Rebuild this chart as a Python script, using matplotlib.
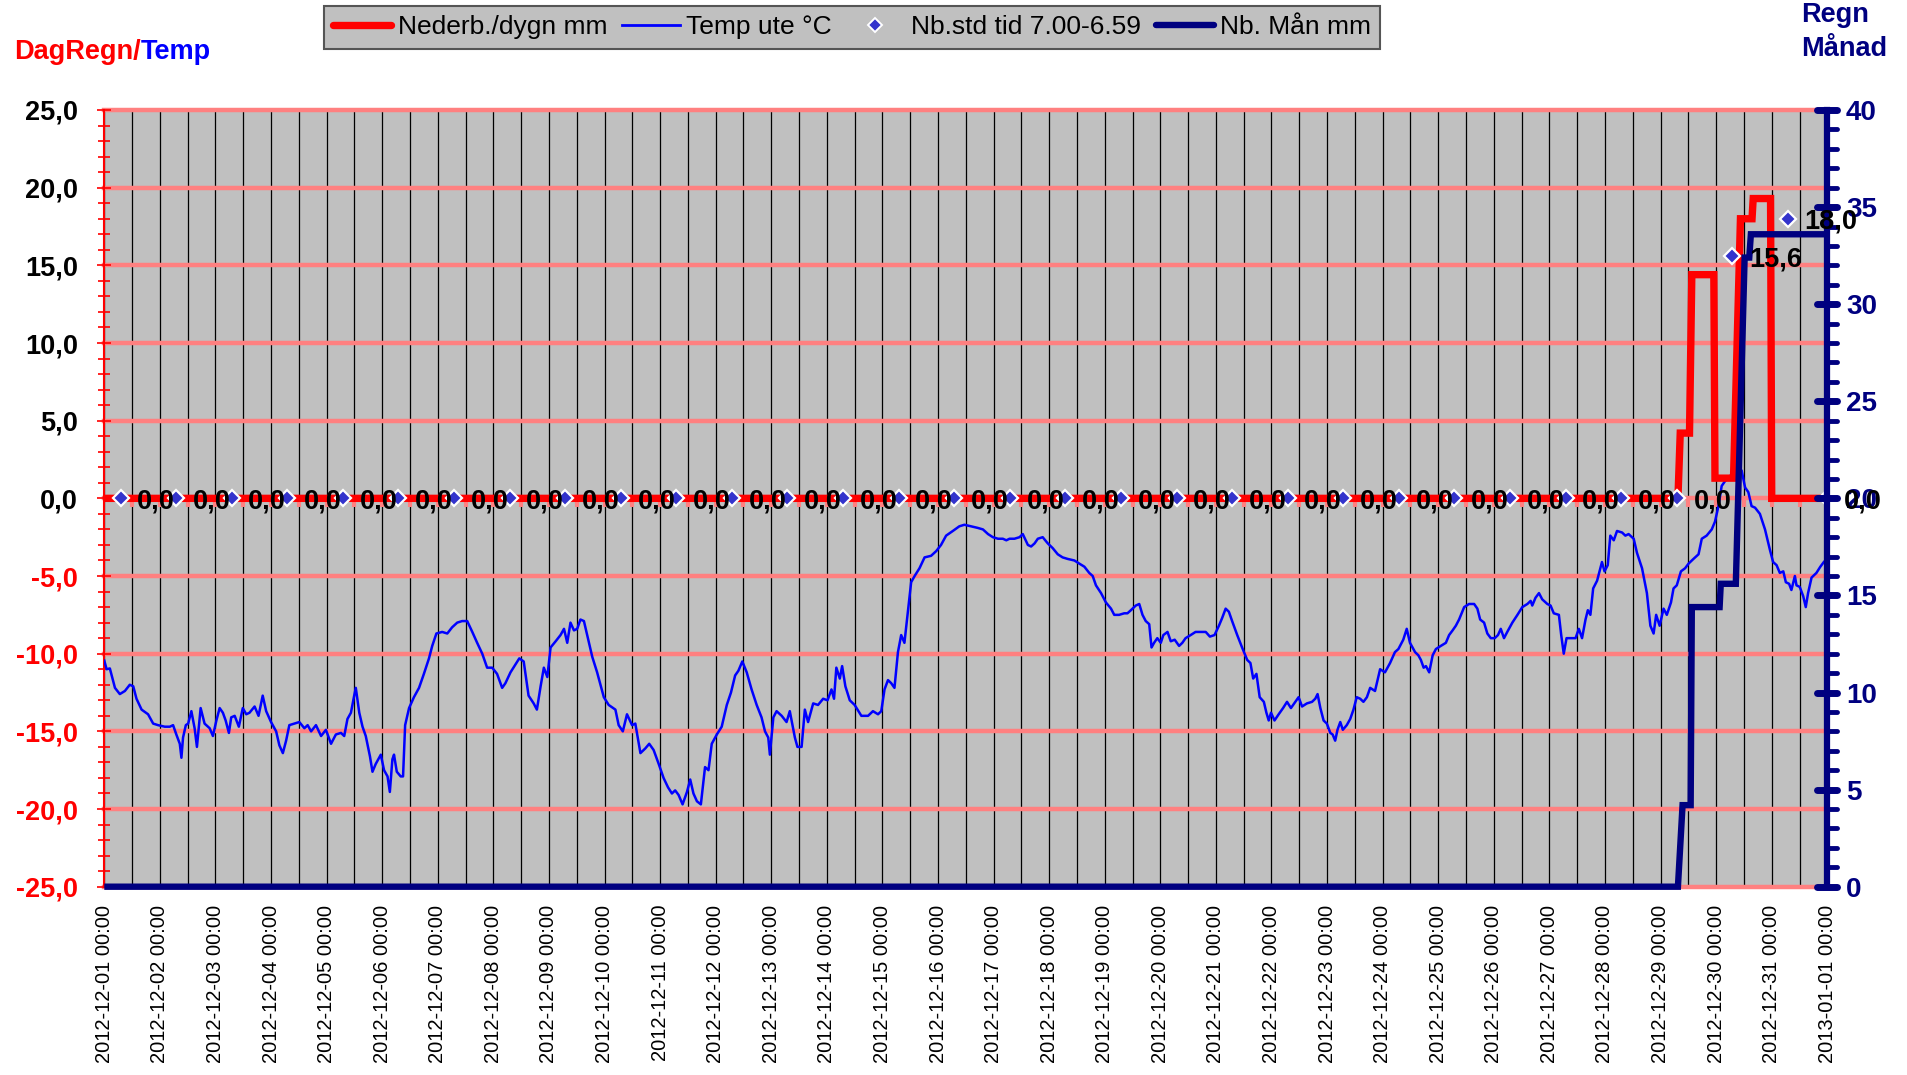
import matplotlib
matplotlib.use("Agg")
import matplotlib.pyplot as plt
from matplotlib.lines import Line2D
from matplotlib.markers import MarkerStyle
from matplotlib.ticker import MultipleLocator
import matplotlib.lines as mlines
import pandas as pd

plt.rcParams['font.family'] = ['Liberation Sans', 'DejaVu Sans']

# ---------------- data (x in hours after 2012-12-01 00:00) ----------------
day_labels = [d.strftime('%Y-%m-%d %H:%M')
              for d in pd.date_range('2012-12-01', '2013-01-01', freq='D')]

temp_hours = [
    0, 1.0, 2.4, 4.6, 6.7, 8.9, 11.0, 12.5, 13.9, 16.1,
    18.9, 21.1, 23.2, 26.1, 28.3, 29.7, 31.1, 32.6, 33.3, 34.0,
    35.2, 36.2, 37.6, 39.0, 40.0, 41.6, 43.3, 45.5, 46.9, 48.4,
    49.8, 51.2, 52.4, 53.8, 54.8, 56.3, 58.1, 59.8, 61.3, 62.7,
    64.9, 66.6, 68.4, 69.9, 72.0, 74.2, 75.6, 77.1, 78.5, 79.9,
    82.1, 84.2, 86.4, 87.8, 89.3, 91.4, 93.6, 95.7, 97.9, 100.0,
    102.2, 103.6, 105.0, 106.5, 107.9, 108.6, 110.1, 111.5, 112.9, 114.7,
    115.8, 117.2, 119.4, 120.8, 122.3, 123.3, 124.4, 125.1, 126.3, 128.0,
    129.0, 129.9, 131.6, 133.7, 135.9, 138.0, 140.2, 141.6, 143.4, 145.9,
    148.1, 150.2, 152.4, 154.5, 156.7, 158.9, 161.0, 163.2, 165.3, 167.5,
    169.6, 171.8, 173.2, 175.4, 177.5, 179.2, 181.1, 183.2, 185.4, 186.8,
    188.4, 189.8, 191.3, 192.7, 194.9, 197.0, 198.5, 199.9, 201.3, 202.8,
    204.2, 205.6, 207.1, 208.5, 210.7, 212.8, 215.7, 217.8, 220.7, 222.1,
    223.9, 225.7, 227.9, 229.3, 231.5, 233.6, 235.3, 237.2, 239.4, 241.5,
    243.4, 245.1, 246.5, 248.0, 249.7, 251.6, 253.0, 254.4, 255.9, 257.6,
    259.4, 260.9, 262.3, 264.5, 266.6, 268.8, 270.6, 272.4, 273.8, 275.5,
    277.4, 279.5, 281.7, 283.8, 285.3, 286.7, 287.4, 288.9, 290.3, 292.5,
    294.6, 296.0, 298.2, 299.3, 301.1, 302.5, 303.9, 306.1, 308.2, 310.4,
    312.3, 314.0, 315.1, 316.1, 317.6, 318.6, 320.0, 321.9, 324.0, 326.9,
    329.8, 331.9, 334.1, 335.5, 336.9, 338.4, 339.8, 341.2, 342.7, 344.1,
    345.5, 347.0, 348.4, 349.9, 352.0, 354.2, 357.0, 359.2, 361.3, 363.5,
    366.4, 369.2, 371.4, 374.2, 377.1,
    379.4, 381.6, 383.7, 385.9, 388.0, 389.5, 390.9, 393.0, 395.2, 396.6,
    398.8, 400.2, 401.7, 403.1, 405.2, 407.4, 409.5, 411.7, 413.8, 416.0,
    418.9, 421.0, 423.2, 425.3, 426.8, 428.2, 430.4, 432.5, 434.7, 436.1,
    438.2, 440.4, 441.8, 443.3, 445.4, 446.9, 448.3, 449.7, 451.2, 452.2,
    453.3, 454.7, 456.2, 457.3, 459.1, 460.5, 462.2, 464.1, 465.5, 466.9,
    469.1, 471.2, 473.4, 475.6, 477.4, 479.4, 481.3, 482.7, 484.2, 485.6,
    487.0, 489.2, 491.3, 493.5, 494.9, 496.1, 497.5, 498.9, 500.7, 501.8,
    502.8, 503.8, 505.3, 507.1, 509.0, 510.7, 512.4, 514.3, 515.7, 517.2,
    519.3, 521.5, 522.9, 523.9, 525.1, 526.5, 527.9, 529.4, 530.4, 531.5,
    532.5, 533.7, 534.8, 536.5, 538.0, 539.4, 540.8, 542.3, 543.7, 545.2,
    546.6, 548.7, 550.9, 553.0, 555.2, 557.3, 558.8, 560.9, 562.4, 563.8,
    566.0, 567.4,
    568.5, 569.7, 570.7, 572.1, 573.6, 575.0, 577.1, 579.3, 580.7, 582.2,
    583.6, 585.0, 587.2, 589.3, 591.5, 592.9, 594.1, 595.8, 597.2, 598.7,
    600.4, 601.8, 603.0, 604.4, 605.8, 608.0, 610.2, 612.3, 614.5, 615.9,
    616.6, 618.0, 619.5, 620.9, 623.1, 624.5, 625.9, 628.1, 629.1, 630.2,
    631.4, 633.1, 635.3, 636.7, 638.1, 639.6, 640.6, 641.7, 642.9, 644.6,
    646.0, 646.7, 647.8, 649.2, 650.3, 651.8, 653.2, 655.4, 656.8, 658.2,
    660.4, 661.8, 664.0, 666.1, 667.6, 669.0, 670.1, 671.6, 673.3, 674.7,
    676.5, 677.6, 679.0, 680.8, 682.6, 684.1, 686.2, 688.4, 689.8, 691.9,
    694.1, 695.5, 697.0, 698.4, 699.8, 702.0, 703.1, 704.9, 707.0, 708.5,
    709.9, 711.3, 712.8, 714.9, 717.1, 719.2, 720.6, 722.1, 723.5, 725.0,
    726.1, 727.5, 728.5, 730.0, 730.7, 732.1, 733.6, 734.7, 735.7, 737.2,
    739.3, 741.0, 742.5,
]
temp_c = [
    -10.45, -11.0, -10.95, -12.2, -12.6, -12.4, -12.0, -12.1, -12.9, -13.6,
    -13.9, -14.5, -14.6, -14.7, -14.7, -14.6, -15.2, -15.8, -16.7, -15.4,
    -14.6, -14.5, -13.7, -14.8, -16.0, -13.5, -14.5, -14.8, -15.3, -14.3,
    -13.5, -13.8, -14.3, -15.1, -14.1, -14.0, -14.7, -13.5, -13.9, -13.8,
    -13.4, -14.0, -12.7, -13.7, -14.4, -15.0, -15.9, -16.4, -15.6, -14.6,
    -14.5, -14.4, -14.8, -14.6, -15.0, -14.6, -15.3, -14.9, -15.8, -15.2,
    -15.1, -15.3, -14.2, -13.8, -12.7, -12.2, -13.8, -14.7, -15.3, -16.6,
    -17.6, -17.1, -16.5, -17.5, -17.9, -18.9, -16.8, -16.5, -17.6, -17.9,
    -17.9, -14.6, -13.5, -12.8, -12.2, -11.3, -10.3, -9.5, -8.7, -8.6,
    -8.7, -8.3, -8.0, -7.9, -7.9, -8.6, -9.3, -10.0, -10.9, -10.9,
    -11.3, -12.2, -11.9, -11.2, -10.7, -10.3, -10.5, -12.7, -13.2, -13.6,
    -12.1, -10.9, -11.5, -9.6, -9.2, -8.8, -8.4, -9.3, -8.0, -8.5,
    -8.4, -7.8, -7.9, -8.8, -10.2, -11.2, -12.8, -13.3, -13.6, -14.6,
    -15.0, -13.9, -14.6, -14.5, -16.4, -16.1, -15.8, -16.2, -17.1, -18.0,
    -18.6, -19.0, -18.8, -19.1, -19.7, -18.9, -18.1, -19.0, -19.5, -19.7,
    -17.3, -17.5, -15.8, -15.2, -14.7, -13.3, -12.5, -11.4, -11.1, -10.5,
    -11.2, -12.3, -13.3, -14.1, -15.0, -15.4, -16.5, -14.1, -13.7, -14.0,
    -14.4, -13.7, -15.4, -16.0, -16.0, -13.6, -14.4, -13.2, -13.3, -12.9,
    -13.0, -12.3, -12.9, -10.9, -11.6, -10.8, -12.1, -13.0, -13.3, -14.0,
    -14.0, -13.7, -13.9, -13.7, -12.3, -11.7, -11.9, -12.2, -9.9, -8.8,
    -9.3, -7.3, -5.4, -5.0, -4.5, -3.8, -3.7, -3.4, -3.0, -2.4,
    -2.1, -1.8, -1.7, -1.8, -1.9,
    -2.0, -2.3, -2.5, -2.6, -2.6, -2.7, -2.6, -2.6, -2.5, -2.3,
    -3.0, -3.1, -2.9, -2.6, -2.5, -2.9, -3.2, -3.6, -3.8, -3.9,
    -4.0, -4.2, -4.4, -4.8, -5.0, -5.6, -6.1, -6.7, -7.1, -7.5,
    -7.5, -7.4, -7.4, -7.2, -6.9, -6.8, -7.5, -7.9, -8.1, -9.6,
    -9.3, -9.0, -9.3, -8.8, -8.6, -9.2, -9.1, -9.5, -9.3, -9.0,
    -8.8, -8.6, -8.6, -8.6, -8.9, -8.8, -8.2, -7.7, -7.1, -7.3,
    -7.9, -8.8, -9.6, -10.4, -10.6, -11.6, -11.3, -12.8, -13.1, -13.8,
    -14.3, -13.8, -14.3, -13.9, -13.5, -13.1, -13.5, -13.1, -12.8, -13.4,
    -13.2, -13.1, -12.9, -12.6, -13.5, -14.3, -14.5, -15.1, -15.2, -15.6,
    -14.9, -14.4, -14.9, -14.6, -14.2, -13.6, -12.8, -12.9, -13.1, -12.8,
    -12.2, -12.4, -11.0, -11.2, -10.6, -9.9, -9.7, -9.1, -8.4, -9.3,
    -9.9, -10.1,
    -10.4, -10.9, -10.8, -11.2, -10.1, -9.7, -9.5, -9.3, -8.8, -8.5,
    -8.2, -7.8, -7.0, -6.8, -6.8, -7.1, -7.8, -8.0, -8.7, -9.0,
    -9.0, -8.8, -8.4, -9.0, -8.6, -8.0, -7.5, -7.0, -6.8, -6.6,
    -6.9, -6.4, -6.1, -6.5, -6.8, -6.9, -7.4, -7.5, -8.8, -10.0,
    -9.0, -9.0, -9.0, -8.4, -9.0, -7.8, -7.2, -7.5, -5.8, -5.3,
    -4.5, -4.1, -4.7, -4.3, -2.4, -2.7, -2.1, -2.2, -2.4, -2.3,
    -2.6, -3.5, -4.5, -6.1, -8.2, -8.7, -7.5, -8.2, -7.1, -7.5,
    -6.7, -5.8, -5.6, -4.7, -4.5, -4.2, -3.9, -3.6, -2.6, -2.4,
    -2.0, -1.5, -0.5, 0.8, 1.1, 1.4, 1.7, 1.7, 1.8, 0.7,
    0.4, -0.5, -0.6, -1.0, -2.0, -3.3, -4.1, -4.3, -4.8, -4.7,
    -5.4, -5.5, -5.9, -5.0, -5.6, -5.7, -6.3, -7.0, -6.1, -5.1,
    -4.8, -4.4, -4.1,
]

# daily precipitation (red line, left axis)
rain_day_hours = [0, 679.5, 680.5, 684.5, 685.5, 695.0, 695.5, 703.5, 706.5,
                  711.5, 712.0, 719.5, 720.0, 744]
rain_day_mm = [0.0, 0.0, 4.2, 4.2, 14.4, 14.4, 1.3, 1.3, 18.0,
               18.0, 19.3, 19.3, 0.0, 0.0]

# monthly accumulated precipitation (navy line, right axis)
rain_month_hours = [0, 679.5, 681.5, 685.0, 685.5, 697.5, 698.0, 704.5, 708.3,
                    710.3, 711.0, 744]
rain_month_mm = [0.0, 0.0, 4.2, 4.2, 14.4, 14.4, 15.6, 15.6, 32.4,
                 32.4, 33.6, 33.6]

# daily totals 07.00-06.59 (diamonds with labels)
station_hours = [7, 31, 55, 79, 103, 127, 151, 175, 199, 223, 247, 271, 295,
                 319, 343, 367, 391, 415, 439, 463, 487, 511, 535, 559, 583,
                 607, 631, 655, 679, 703, 727, 744]
station_mm = [0.0, 0.0, 0.0, 0.0, 0.0, 0.0, 0.0, 0.0, 0.0, 0.0, 0.0, 0.0, 0.0,
              0.0, 0.0, 0.0, 0.0, 0.0, 0.0, 0.0, 0.0, 0.0, 0.0, 0.0, 0.0,
              0.0, 0.0, 0.0, 0.0, 15.6, 18.0, 0.0]

left_ticks = [-25, -20, -15, -10, -5, 0, 5, 10, 15, 20, 25]
right_ticks = [0, 5, 10, 15, 20, 25, 30, 35, 40]

legend_labels = ['Nederb./dygn mm', 'Temp ute °C', 'Nb.std tid 7.00-6.59', 'Nb. Mån mm']

# ---------------- styling ----------------
RED = '#FF0000'
BLUE = '#0000FF'
NAVY = '#000080'
SALMON = '#FF8080'
GRAY = '#C0C0C0'
DIAM = '#3333CC'

W, H = 1908, 1075
fig = plt.figure(figsize=(W / 100, H / 100), dpi=100)
fig.patch.set_facecolor('white')

ax_left, ax_right, ax_top, ax_bot = 104.3, 1827.3, 110.0, 886.7
ax = fig.add_axes([ax_left / W, (H - ax_bot) / H, (ax_right - ax_left) / W,
                   (ax_bot - ax_top) / H])
ax.set_facecolor(GRAY)
ax.set_xlim(0, 744)
ax.set_ylim(-25, 25)

day_hours = [24 * i for i in range(len(day_labels))]
half_hours = [12 + 24 * i for i in range(len(day_labels) - 1)]

ax.set_xticks(day_hours)
ax.set_xticklabels(day_labels, rotation=90, fontsize=14.5)
ax.set_xticks(half_hours, minor=True)
ax.tick_params(axis='x', which='both', length=0, pad=13)
ax.xaxis.grid(True, which='both', color='black', lw=0.9, zorder=0)

ax.set_yticks(left_ticks)
ax.set_yticklabels([f"{v:.1f}".replace('.', ',') for v in left_ticks])
ax.yaxis.set_minor_locator(MultipleLocator(1))
ax.yaxis.grid(True, which='major', color=SALMON, lw=3.2)
for gl in ax.get_ygridlines():
    gl.set_clip_on(False)
ax.set_axisbelow(True)
ax.tick_params(axis='y', which='major', direction='inout', length=10, width=1.2,
               color=RED, labelsize=19.5, pad=14)
ax.tick_params(axis='y', which='minor', direction='inout', length=8, width=1.2,
               color=RED)
for v, lbl in zip(left_ticks, ax.get_yticklabels()):
    lbl.set_fontweight('bold')
    lbl.set_color(RED if v < 0 else 'black')

for s in ['top', 'bottom', 'right']:
    ax.spines[s].set_visible(False)
ax.spines['left'].set_color(RED)
ax.spines['left'].set_linewidth(1.5)

# x-axis tick nubs at y = 0
ax.vlines(half_hours + day_hours[1:-1], -0.55, 0, color=SALMON, lw=3, zorder=2.5)

# series on the primary axis
ax.plot(temp_hours, temp_c, color=BLUE, lw=1.8, zorder=3)
ax.plot(rain_day_hours, rain_day_mm, color=RED, lw=5.3, zorder=4,
        solid_joinstyle='miter', solid_capstyle='butt')
ax.plot(station_hours, station_mm, ls='none', marker='D', ms=8.5, mfc=DIAM,
        mec='white', mew=1.6, zorder=5)

# secondary axis
ax2 = ax.twinx()
ax2.set_ylim(0, 40)
ax2.plot(rain_month_hours, rain_month_mm, color=NAVY, lw=4.6, zorder=3,
         clip_on=False, solid_joinstyle='miter', solid_capstyle='butt')
ax2.set_yticks(right_ticks)
ax2.yaxis.set_minor_locator(MultipleLocator(1))
ax2.tick_params(axis='y', which='major', direction='inout', length=15, width=5,
                color=NAVY, labelsize=20, labelcolor=NAVY, pad=6)
ax2.tick_params(axis='y', which='minor', direction='out', length=7, width=3.5,
                color=NAVY)
for t in ax2.yaxis.get_major_ticks():
    t.tick2line.set_marker(MarkerStyle('_', capstyle='round'))
for t in ax2.yaxis.get_minor_ticks():
    t.tick2line.set_marker(MarkerStyle(mlines.TICKRIGHT, capstyle='round'))
for lbl in ax2.get_yticklabels():
    lbl.set_fontweight('bold')
for s in ['top', 'bottom', 'left']:
    ax2.spines[s].set_visible(False)
ax2.spines['right'].set_color(NAVY)
ax2.spines['right'].set_linewidth(4.5)

# data labels
for h, v in zip(station_hours, station_mm):
    ax2.annotate(f"{v:.1f}".replace('.', ','), xy=(h, v), xycoords=ax.transData,
                 xytext=(12, 0), textcoords='offset points', ha='left',
                 va='center_baseline', fontsize=19.5, fontweight='bold',
                 color='black', zorder=10, annotation_clip=False)

# header texts
t1 = fig.text(14.6 / W, 1 - 52 / H, 'DagRegn/', color=RED, fontsize=19.5,
              fontweight='bold', ha='left', va='center')
fig.canvas.draw()
bb = t1.get_window_extent()
fig.text(bb.x1 / W, 1 - 52 / H, 'Temp', color=BLUE, fontsize=19.5,
         fontweight='bold', ha='left', va='center')
fig.text(1801 / W, 1 - 15 / H, 'Regn', color=NAVY, fontsize=19.5,
         fontweight='bold', ha='left', va='center')
fig.text(1801 / W, 1 - 49 / H, 'Månad', color=NAVY, fontsize=19.5,
         fontweight='bold', ha='left', va='center')

# legend
handles = [
    Line2D([], [], color=RED, lw=5.3, solid_capstyle='round'),
    Line2D([], [], color=BLUE, lw=2.0),
    Line2D([], [], ls='none', marker='D', ms=7, mfc=DIAM, mec='white', mew=1.4),
    Line2D([], [], color=NAVY, lw=4.6, solid_capstyle='round'),
]
leg = fig.legend(handles, legend_labels, loc='upper left',
                 bbox_to_anchor=(323.7 / W, 1 - 6.1 / H), ncol=4, fontsize=19,
                 frameon=True, fancybox=False, shadow=False, framealpha=1,
                 facecolor=GRAY, edgecolor='#555555', borderpad=0.35,
                 handlelength=2.2, handletextpad=0.25, columnspacing=0.55,
                 borderaxespad=0)
leg.get_frame().set_linewidth(1.5)

fig.savefig('out.png', dpi=100)
